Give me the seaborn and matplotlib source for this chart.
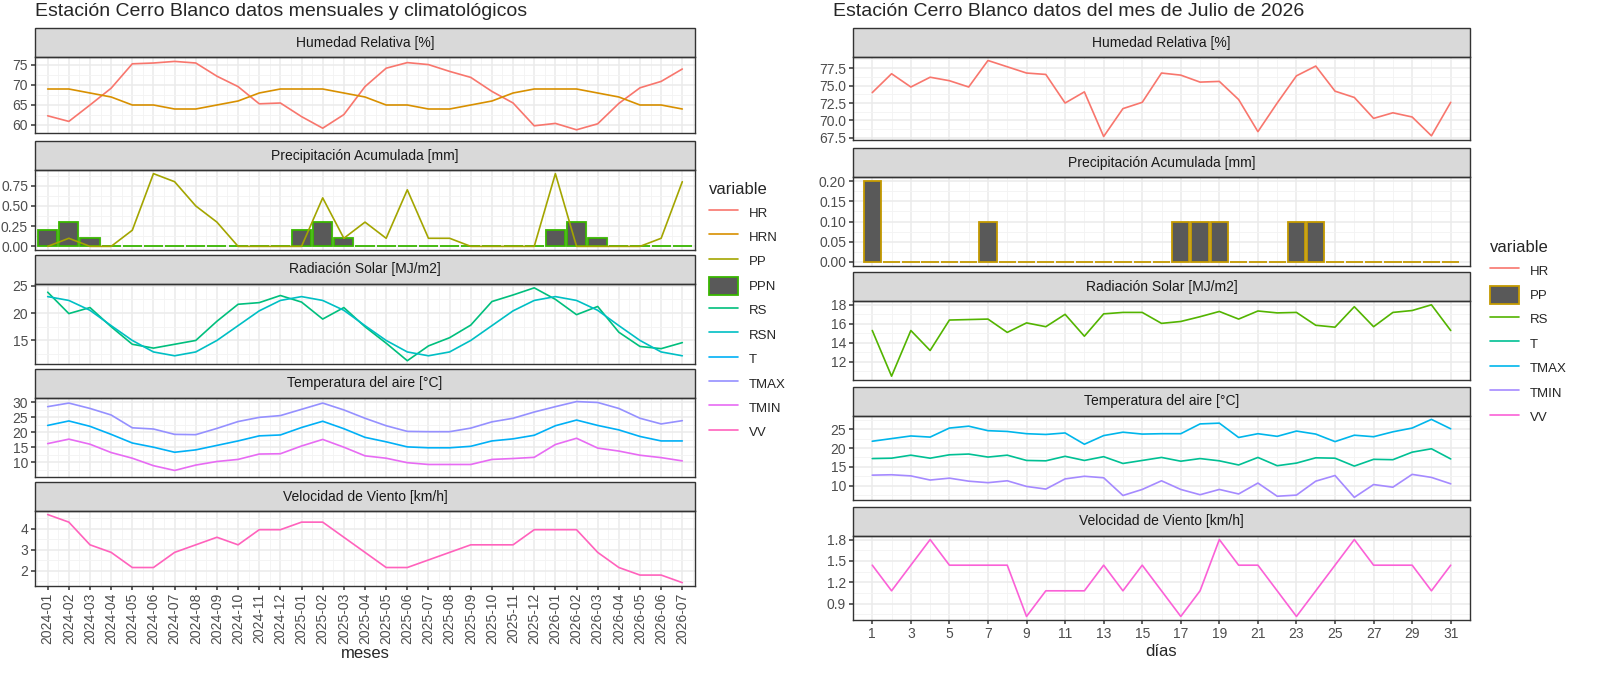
import numpy as np
import seaborn as sns
import matplotlib.pyplot as plt
from matplotlib.lines import Line2D
from matplotlib.patches import Patch, Rectangle
from matplotlib.ticker import AutoMinorLocator

sns.set_theme(style="whitegrid")
plt.rcParams['font.family'] = ['Liberation Sans', 'DejaVu Sans']

# ---- monthly data (left) ----
meses = [f"{y}-{m:02d}" for y in (2024, 2025, 2026) for m in range(1, 13)][:31]
hr_m = [62.3, 60.9, 65, 69.2, 75.3, 75.5, 75.9, 75.5, 72.2, 69.6, 65.3, 65.5, 62.1, 59.2, 62.6, 69.6,
        74.2, 75.6, 75.1, 73.4, 71.9, 68.4, 65.5, 59.8, 60.4, 58.8, 60.3, 65.4, 69.3, 70.9, 74.0]
hrn_m = [69, 69, 68, 67, 65, 65, 64, 64, 65, 66, 68, 69, 69, 69, 68, 67, 65, 65, 64, 64, 65, 66, 68,
         69, 69, 69, 68, 67, 65, 65, 64]
pp_m = [0, 0.1, 0, 0, 0.2, 0.9, 0.8, 0.5, 0.3, 0, 0, 0, 0, 0.6, 0.1, 0.3, 0.1, 0.7, 0.1, 0.1, 0, 0, 0,
        0, 0.9, 0, 0, 0, 0, 0.1, 0.8]
ppn_m = [0.2, 0.3, 0.1, 0, 0, 0, 0, 0, 0, 0, 0, 0, 0.2, 0.3, 0.1, 0, 0, 0, 0, 0, 0, 0, 0, 0,
         0.2, 0.3, 0.1, 0, 0, 0, 0]
rs_m = [23.8, 19.9, 21.0, 17.5, 14.3, 13.6, 14.3, 15.0, 18.5, 21.6, 21.9, 23.2, 22.0, 18.9, 21.0, 17.5,
        14.5, 11.3, 14.0, 15.5, 17.8, 22.1, 23.3, 24.6, 22.5, 19.7, 21.2, 16.5, 13.9, 13.5, 14.6]
rsn_m = [23.0, 22.3, 20.5, 17.7, 15.0, 12.9, 12.2, 12.9, 15.0, 17.7, 20.4, 22.3, 23.0, 22.3, 20.5, 17.7,
         15.0, 12.9, 12.2, 12.9, 15.0, 17.7, 20.4, 22.3, 23.0, 22.3, 20.5, 17.7, 15.0, 12.9, 12.2]
tmax_m = [28.6, 29.8, 28.0, 25.8, 21.5, 21.1, 19.3, 19.2, 21.3, 23.6, 25.0, 25.6, 27.7, 29.8, 27.5, 24.7,
          22.2, 20.3, 20.2, 20.2, 21.4, 23.5, 24.7, 26.8, 28.6, 30.3, 30.0, 28.0, 24.7, 22.8, 23.9]
t_m = [22.3, 23.8, 22.0, 19.3, 16.4, 15.0, 13.3, 14.1, 15.6, 17.1, 18.8, 19.1, 21.6, 23.7, 21.2, 18.3,
       16.8, 15.1, 14.8, 14.8, 15.3, 17.1, 17.8, 19.0, 22.2, 24.1, 22.3, 20.8, 18.6, 17.1, 17.1]
tmin_m = [16.2, 17.7, 16.0, 13.2, 11.3, 8.8, 7.2, 9.0, 10.2, 10.9, 12.7, 12.8, 15.4, 17.6, 15.0, 12.1,
          11.3, 9.8, 9.2, 9.2, 9.2, 10.9, 11.2, 11.6, 15.9, 18.0, 14.7, 13.7, 12.3, 11.5, 10.4]
vv_m = [4.68, 4.32, 3.24, 2.88, 2.16, 2.16, 2.88, 3.24, 3.6, 3.24, 3.96, 3.96, 4.32, 4.32, 3.6, 2.88,
        2.16, 2.16, 2.52, 2.88, 3.24, 3.24, 3.24, 3.96, 3.96, 3.96, 2.88, 2.16, 1.8, 1.8, 1.44]

# ---- daily data (right) ----
dias = list(range(1, 32))
hr_d = [74.0, 76.7, 74.8, 76.2, 75.7, 74.8, 78.6, 77.7, 76.8, 76.6, 72.5, 74.1, 67.7, 71.7, 72.6, 76.8,
        76.5, 75.5, 75.6, 73.0, 68.4, 72.5, 76.4, 77.8, 74.2, 73.3, 70.3, 71.1, 70.5, 67.8, 72.6]
pp_d = [0.2, 0, 0, 0, 0, 0, 0.1, 0, 0, 0, 0, 0, 0, 0, 0, 0, 0.1, 0.1, 0.1, 0, 0, 0, 0.1, 0.1, 0, 0,
        0, 0, 0, 0, 0]
rs_d = [15.3, 10.5, 15.3, 13.2, 16.4, 16.45, 16.5, 15.1, 16.1, 15.7, 17.0, 14.7, 17.05, 17.2, 17.2, 16.05,
        16.25, 16.75, 17.3, 16.5, 17.35, 17.15, 17.2, 15.85, 15.65, 17.8, 15.7, 17.2, 17.4, 18.0, 15.3]
tmax_d = [21.8, 22.5, 23.2, 22.9, 25.3, 25.8, 24.6, 24.4, 23.8, 23.6, 24.0, 21.0, 23.3, 24.2, 23.7, 23.8,
          23.8, 26.4, 26.6, 22.8, 23.8, 23.1, 24.5, 23.7, 21.7, 23.4, 23.0, 24.3, 25.3, 27.6, 25.1]
t_d = [17.2, 17.3, 18.1, 17.3, 18.2, 18.4, 17.6, 18.1, 16.7, 16.6, 17.8, 16.7, 17.7, 15.9, 16.7, 17.5,
       16.5, 17.2, 16.6, 15.5, 17.5, 15.3, 16.0, 17.4, 17.3, 15.2, 17.0, 16.9, 18.9, 19.8, 17.1]
tmin_d = [12.8, 12.9, 12.6, 11.5, 12.0, 11.2, 10.8, 11.3, 9.8, 9.1, 11.8, 12.5, 12.1, 7.4, 9.0, 11.3,
          9.0, 7.6, 9.0, 7.8, 10.7, 7.2, 7.5, 11.2, 12.7, 6.9, 10.3, 9.6, 13.0, 12.2, 10.5]
vv_d = [1.44, 1.08, 1.44, 1.8, 1.44, 1.44, 1.44, 1.44, 0.72, 1.08, 1.08, 1.08, 1.44, 1.08, 1.44, 1.08,
        0.72, 1.08, 1.8, 1.44, 1.44, 1.08, 0.72, 1.08, 1.44, 1.8, 1.44, 1.44, 1.44, 1.08, 1.44]

strips = ["Humedad Relativa [%]", "Precipitación Acumulada [mm]", "Radiación Solar [MJ/m2]",
          "Temperatura del aire [°C]", "Velocidad de Viento [km/h]"]

colL = dict(HR="#F8766D", HRN="#D89000", PP="#A3A500", PPN="#39B600", RS="#00BF7D",
            RSN="#00BFC4", T="#00B0F6", TMAX="#9590FF", TMIN="#E76BF3", VV="#FF62BC")
colR = dict(HR="#F8766D", PP="#C49A00", RS="#53B400", T="#00C094", TMAX="#00B6EB",
            TMIN="#A58AFF", VV="#FB61D7")

W, H = 1600, 676
fig = plt.figure(figsize=(16, 6.76), dpi=100)


def px(x0, y0, x1, y1):
    return [x0 / W, 1 - y1 / H, (x1 - x0) / W, (y1 - y0) / H]


def panel(x0, x1, strip_top, y0, y1, title):
    ax = fig.add_axes(px(x0, y0, x1, y1))
    ax.set_facecolor("white")
    for s in ax.spines.values():
        s.set_color("#333333")
        s.set_linewidth(1.0)
    sh = (y0 - strip_top) / (y1 - y0)
    ax.add_patch(Rectangle((0, 1), 1, sh, transform=ax.transAxes, clip_on=False,
                           facecolor="#D9D9D9", edgecolor="#333333", lw=1.0))
    ax.text(0.5, 1 + sh / 2, title, transform=ax.transAxes, ha="center", va="center",
            fontsize=10, color="#1A1A1A")
    ax.grid(True, which="major", color="#EBEBEB", lw=1.1)
    ax.yaxis.set_minor_locator(AutoMinorLocator(2))
    ax.grid(True, which="minor", color="#F3F3F3", lw=0.6)
    ax.tick_params(axis="both", which="major", labelsize=10, colors="#4D4D4D", length=3,
                   left=True, bottom=True, pad=2)
    ax.tick_params(which="minor", length=0)
    ax.set_axisbelow(True)
    return ax


def line(ax, x, y, c):
    sns.lineplot(x=x, y=y, ax=ax, color=c, lw=1.2)


def bars(ax, x, y, edge):
    ax.bar(x, y, width=0.9, color="#595959", edgecolor=edge, lw=1.3, zorder=2)


# ---------------- left ----------------
xl = np.arange(len(meses))
LX0, LX1 = 35, 695
lrows = [(28, 57, 133), (141, 170, 250), (255, 284, 364), (369, 398, 477), (482, 511, 586)]
axL = [panel(LX0, LX1, *r, s) for r, s in zip(lrows, strips)]
line(axL[0], xl, hr_m, colL["HR"]); line(axL[0], xl, hrn_m, colL["HRN"])
bars(axL[1], xl, ppn_m, colL["PPN"]); line(axL[1], xl, pp_m, colL["PP"])
line(axL[2], xl, rs_m, colL["RS"]); line(axL[2], xl, rsn_m, colL["RSN"])
line(axL[3], xl, tmax_m, colL["TMAX"]); line(axL[3], xl, t_m, colL["T"]); line(axL[3], xl, tmin_m, colL["TMIN"])
line(axL[4], xl, vv_m, colL["VV"])
yt = [[60, 65, 70, 75], [0, 0.25, 0.5, 0.75], [15, 20, 25], [10, 15, 20, 25, 30], [2, 3, 4]]
ylab = [None, ["0.00", "0.25", "0.50", "0.75"], None, None, None]
ylim = [(58.0, 77.0), (-0.045, 0.945), (10.7, 25.3), (5.0, 31.5), (1.28, 4.85)]
for i, ax in enumerate(axL):
    ax.set_xlim(-0.6, 30.6)
    ax.set_xticks(xl)
    ax.xaxis.set_minor_locator(AutoMinorLocator(2))
    ax.set_yticks(yt[i])
    if ylab[i]:
        ax.set_yticklabels(ylab[i])
    ax.set_ylim(*ylim[i])
    ax.set_xlabel("")
    if i < 4:
        ax.set_xticklabels([])
        ax.tick_params(axis="x", length=0)
axL[4].set_xticklabels(meses, rotation=90)
axL[4].set_xlabel("meses", fontsize=12, labelpad=1)
fig.text(35 / W, 1 - 12 / H, "Estación Cerro Blanco datos mensuales y climatológicos",
         fontsize=14, va="center", ha="left")

# ---------------- right ----------------
RX0, RX1 = 853, 1470
rrows = [(28, 57, 140), (148, 177, 266), (272, 301, 380), (387, 416, 500), (507, 536, 620)]
axR = [panel(RX0, RX1, *r, s) for r, s in zip(rrows, strips)]
line(axR[0], dias, hr_d, colR["HR"])
bars(axR[1], dias, pp_d, colR["PP"])
line(axR[2], dias, rs_d, colR["RS"])
line(axR[3], dias, tmax_d, colR["TMAX"]); line(axR[3], dias, t_d, colR["T"]); line(axR[3], dias, tmin_d, colR["TMIN"])
line(axR[4], dias, vv_d, colR["VV"])
ytr = [[67.5, 70, 72.5, 75, 77.5], [0, 0.05, 0.1, 0.15, 0.2], [12, 14, 16, 18], [10, 15, 20, 25], [0.9, 1.2, 1.5, 1.8]]
ylabr = [["67.5", "70.0", "72.5", "75.0", "77.5"], ["0.00", "0.05", "0.10", "0.15", "0.20"], None, None,
         ["0.9", "1.2", "1.5", "1.8"]]
ylimr = [(67.2, 79.1), (-0.01, 0.21), (10.1, 18.4), (6.2, 28.5), (0.67, 1.85)]
for i, ax in enumerate(axR):
    ax.set_xlim(0.0, 32.0)
    ax.set_xticks(range(1, 32, 2))
    ax.xaxis.set_minor_locator(AutoMinorLocator(2))
    ax.set_yticks(ytr[i])
    if ylabr[i]:
        ax.set_yticklabels(ylabr[i])
    ax.set_ylim(*ylimr[i])
    ax.set_xlabel("")
    if i < 4:
        ax.set_xticklabels([])
        ax.tick_params(axis="x", length=0)
axR[4].set_xlabel("días", fontsize=12, labelpad=2)
fig.text(833 / W, 1 - 12 / H, "Estación Cerro Blanco datos del mes de Julio de 2026",
         fontsize=14, va="center", ha="left")


# ---------------- legends ----------------
def handles(cols, barkey):
    hs = []
    for k, c in cols.items():
        if k == barkey:
            hs.append(Patch(facecolor="#595959", edgecolor=c, lw=1.3, label=k))
        else:
            hs.append(Line2D([], [], color=c, lw=1.2, label=k))
    return hs


for cols, key, pos in [(colL, "PPN", (697, 170)), (colR, "PP", (1478, 228))]:
    lg = fig.legend(handles=handles(cols, key), title="variable", loc="upper left",
                    bbox_to_anchor=(pos[0] / W, 1 - pos[1] / H), frameon=False, fontsize=9.5,
                    title_fontsize=12, handlelength=2.2, handleheight=1.7, labelspacing=0.5,
                    alignment="left")

fig.savefig("out.png", dpi=100)
